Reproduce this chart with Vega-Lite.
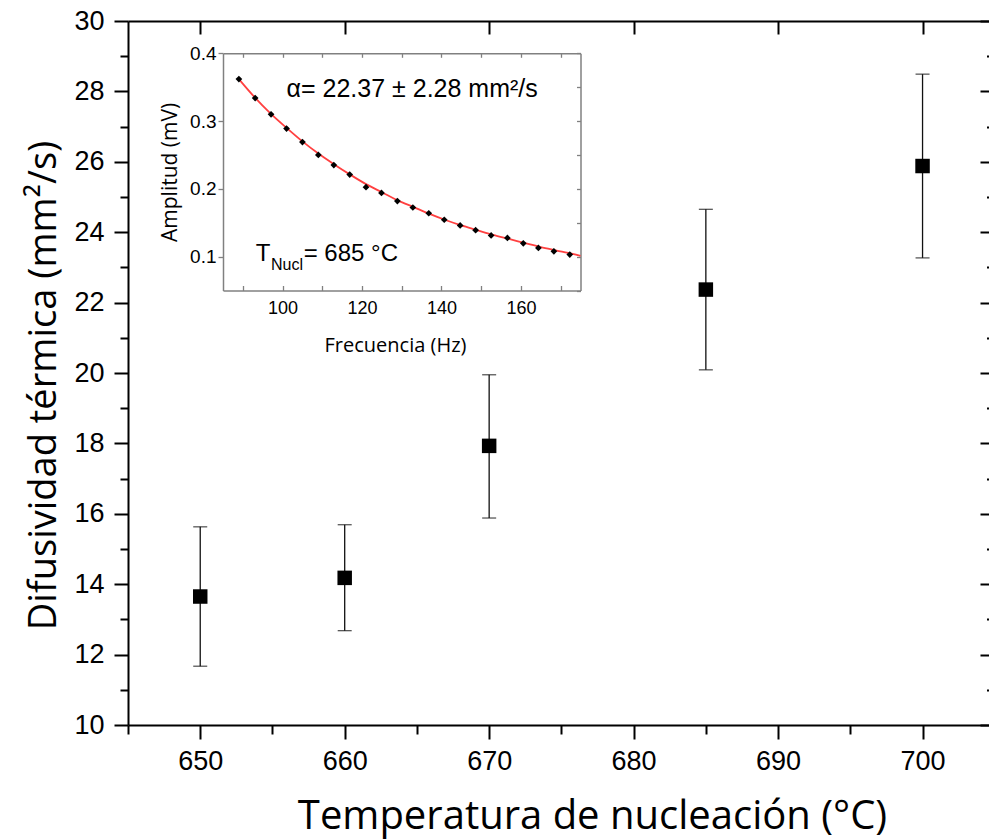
{
  "$schema": "https://vega.github.io/schema/vega-lite/v6.json",
  "width": 861,
  "height": 704,
  "autosize": {"type": "none"},
  "padding": {"left": 128, "top": 21, "right": 0, "bottom": 115},
  "background": "white",
  "config": {"view": {"stroke": null}, "axis": {"grid": false, "labelOverlap": false, "labelFlush": false}},
  "datasets": {
    "main": [
      {"t": 650, "d": 13.65, "lo": 11.67, "hi": 15.63},
      {"t": 660, "d": 14.18, "lo": 12.68, "hi": 15.69},
      {"t": 670, "d": 17.93, "lo": 15.88, "hi": 19.95},
      {"t": 685, "d": 22.37, "lo": 20.09, "hi": 24.65},
      {"t": 700, "d": 25.88, "lo": 23.27, "hi": 28.49}
    ],
    "pts": [
      {"f": 89.0, "a": 0.362}, {"f": 93.1, "a": 0.334}, {"f": 97.1, "a": 0.310}, {"f": 101.0, "a": 0.289},
      {"f": 105.0, "a": 0.269}, {"f": 109.0, "a": 0.250}, {"f": 112.9, "a": 0.235}, {"f": 116.9, "a": 0.221},
      {"f": 121.0, "a": 0.2025}, {"f": 124.9, "a": 0.194}, {"f": 128.9, "a": 0.182}, {"f": 132.8, "a": 0.1725},
      {"f": 136.8, "a": 0.164}, {"f": 140.7, "a": 0.1544}, {"f": 144.7, "a": 0.146}, {"f": 148.6, "a": 0.139},
      {"f": 152.5, "a": 0.1313}, {"f": 156.6, "a": 0.1275}, {"f": 160.6, "a": 0.1196}, {"f": 164.4, "a": 0.1128},
      {"f": 168.3, "a": 0.1078}, {"f": 172.3, "a": 0.103}
    ],
    "fit": [
      {"f": 89, "a": 0.362}, {"f": 93, "a": 0.335}, {"f": 97, "a": 0.311}, {"f": 101, "a": 0.290},
      {"f": 105, "a": 0.270}, {"f": 109, "a": 0.252}, {"f": 113, "a": 0.236}, {"f": 117, "a": 0.221},
      {"f": 121, "a": 0.207}, {"f": 125, "a": 0.195}, {"f": 129, "a": 0.183}, {"f": 133, "a": 0.173},
      {"f": 137, "a": 0.163}, {"f": 141, "a": 0.154}, {"f": 145, "a": 0.146}, {"f": 149, "a": 0.139},
      {"f": 153, "a": 0.132}, {"f": 157, "a": 0.126}, {"f": 161, "a": 0.120}, {"f": 165, "a": 0.114},
      {"f": 169, "a": 0.109}, {"f": 173, "a": 0.104}, {"f": 175, "a": 0.101}
    ]
  },
  "layer": [
    {
      "data": {"name": "main"},
      "resolve": {"axis": {"x": "independent", "y": "independent"}},
      "layer": [
        {
          "mark": {"type": "rule", "color": "#111111", "strokeWidth": 1.3},
          "encoding": {
            "x": {"field": "t", "type": "quantitative",
              "scale": {"domain": [645, 704.6], "nice": false, "zero": false},
              "axis": {"orient": "top", "values": [650, 660, 670, 680, 690, 700], "labels": false, "title": null,
                "tickSize": -13, "tickWidth": 2, "tickColor": "black", "domainColor": "black", "domainWidth": 2}},
            "y": {"field": "lo", "type": "quantitative",
              "scale": {"domain": [10, 30], "nice": false, "zero": false},
              "axis": {"orient": "right", "values": [10,11,12,13,14,15,16,17,18,19,20,21,22,23,24,25,26,27,28,29,30],
                "labels": false, "title": null, "domain": false,
                "tickSize": {"condition": {"test": "datum.value % 2 === 0", "value": -9}, "value": -2.5},
                "tickWidth": 2, "tickColor": "black"}},
            "y2": {"field": "hi"}
          }
        },
        {
          "mark": {"type": "tick", "orient": "horizontal", "color": "#111111", "size": 14, "thickness": 1.3},
          "encoding": {
            "x": {"field": "t", "type": "quantitative", "scale": {"domain": [645, 704.6], "nice": false, "zero": false}, "axis": null},
            "y": {"field": "hi", "type": "quantitative", "scale": {"domain": [10, 30], "nice": false, "zero": false}, "axis": null}
          }
        },
        {
          "mark": {"type": "tick", "orient": "horizontal", "color": "#111111", "size": 14, "thickness": 1.3},
          "encoding": {
            "x": {"field": "t", "type": "quantitative", "scale": {"domain": [645, 704.6], "nice": false, "zero": false}, "axis": null},
            "y": {"field": "lo", "type": "quantitative", "scale": {"domain": [10, 30], "nice": false, "zero": false}, "axis": null}
          }
        },
        {
          "mark": {"type": "square", "size": 210, "color": "black", "opacity": 1, "filled": true},
          "encoding": {
            "x": {"field": "t", "type": "quantitative",
              "scale": {"domain": [645, 704.6], "nice": false, "zero": false},
              "axis": {"orient": "bottom", "values": [645, 650, 655, 660, 665, 670, 675, 680, 685, 690, 695, 700],
                "labelExpr": "datum.value % 10 === 0 ? datum.label : ''",
                "tickSize": {"condition": {"test": "datum.value % 10 === 0", "value": 14}, "value": 9},
                "tickWidth": 2, "tickColor": "black", "domainColor": "black", "domainWidth": 2,
                "labelFont": "Liberation Sans", "labelFontSize": 27, "labelColor": "black", "labelPadding": 9,
                "title": "Temperatura de nucleación (°C)", "titleFont": "Open Sans", "titleFontSize": 40,
                "titleFontWeight": "normal", "titleColor": "black", "titlePadding": 22, "titleX": 464}},
            "y": {"field": "d", "type": "quantitative",
              "scale": {"domain": [10, 30], "nice": false, "zero": false},
              "axis": {"orient": "left", "values": [10,11,12,13,14,15,16,17,18,19,20,21,22,23,24,25,26,27,28,29,30],
                "labelExpr": "datum.value % 2 === 0 ? datum.label : ''",
                "tickSize": {"condition": {"test": "datum.value % 2 === 0", "value": 14}, "value": 8},
                "tickWidth": 2, "tickColor": "black", "domainColor": "black", "domainWidth": 2,
                "labelFont": "Liberation Sans", "labelFontSize": 27, "labelColor": "black", "labelPadding": 10,
                "title": "Difusividad térmica (mm²/s)", "titleFont": "Open Sans", "titleFontSize": 38,
                "titleFontWeight": "normal", "titleColor": "black", "titlePadding": 10, "titleY": 364}}
          }
        }
      ]
    },
    {
      "resolve": {"axis": {"x": "independent", "y": "independent"}},
      "layer": [
        {
          "data": {"name": "fit"},
          "mark": {"type": "line", "color": "#ff4040", "strokeWidth": 1.8, "interpolate": "monotone"},
          "encoding": {
            "x": {"field": "f", "type": "quantitative",
              "scale": {"domain": [85, 175], "range": [95, 452.5], "nice": false, "zero": false},
              "axis": {"orient": "bottom", "offset": -434.5, "values": [90, 100, 110, 120, 130, 140, 150, 160, 170],
                "labelExpr": "datum.value % 20 === 0 ? datum.label : ''",
                "tickSize": -5, "tickWidth": 1.3, "tickColor": "#808080", "domainColor": "#808080", "domainWidth": 1.5,
                "labelFont": "Liberation Sans", "labelFontSize": 18, "labelColor": "black", "labelPadding": 14,
                "title": "Frecuencia (Hz)", "titleFont": "Open Sans", "titleFontSize": 20, "titleFontWeight": "normal",
                "titleColor": "black", "titlePadding": 18, "titleX": 267}},
            "y": {"field": "a", "type": "quantitative",
              "scale": {"domain": [0.05, 0.4], "range": [269.5, 32.3], "nice": false, "zero": false},
              "axis": {"orient": "left", "offset": -95, "values": [0.1, 0.2, 0.3, 0.4],
                "tickSize": 5, "tickWidth": 1.3, "tickColor": "#808080", "domainColor": "#808080", "domainWidth": 1.5,
                "labelFont": "Liberation Sans", "labelFontSize": 19, "labelColor": "black", "labelPadding": 2,
                "title": "Amplitud (mV)", "titleFont": "Open Sans", "titleFontSize": 21, "titleFontWeight": "normal",
                "titleColor": "black", "titlePadding": 9}}
          }
        },
        {
          "data": {"name": "pts"},
          "mark": {"type": "point", "shape": "diamond", "filled": true, "color": "black", "opacity": 1, "size": 45},
          "encoding": {
            "x": {"field": "f", "type": "quantitative",
              "scale": {"domain": [85, 175], "range": [95, 452.5], "nice": false, "zero": false},
              "axis": {"orient": "top", "offset": -32.3, "values": [90, 100, 110, 120, 130, 140, 150, 160, 170],
                "labels": false, "title": null, "tickSize": -4, "tickWidth": 1.3, "tickColor": "#808080",
                "domainColor": "#808080", "domainWidth": 1.5}},
            "y": {"field": "a", "type": "quantitative",
              "scale": {"domain": [0.05, 0.4], "range": [269.5, 32.3], "nice": false, "zero": false},
              "axis": {"orient": "right", "offset": -408.5, "values": [0.05, 0.1, 0.15, 0.2, 0.25, 0.3, 0.35, 0.4],
                "labels": false, "title": null, "tickSize": -4, "tickWidth": 1.3, "tickColor": "#808080",
                "domainColor": "#808080", "domainWidth": 1.5}}
          }
        },
        {
          "data": {"values": [{}]},
          "mark": {"type": "text", "text": "α= 22.37 ± 2.28 mm²/s", "font": "Liberation Sans", "fontSize": 25, "align": "left", "baseline": "alphabetic", "color": "black"},
          "encoding": {
            "x": {"datum": 101.0, "type": "quantitative", "axis": null},
            "y": {"datum": 0.3357, "type": "quantitative", "axis": null}
          }
        },
        {
          "data": {"values": [{}]},
          "mark": {"type": "text", "text": "T", "font": "Liberation Sans", "fontSize": 24, "align": "left", "baseline": "alphabetic", "color": "black"},
          "encoding": {
            "x": {"datum": 93.26, "type": "quantitative", "axis": null},
            "y": {"datum": 0.0941, "type": "quantitative", "axis": null}
          }
        },
        {
          "data": {"values": [{}]},
          "mark": {"type": "text", "text": "Nucl", "font": "Liberation Sans", "fontSize": 16, "align": "left", "baseline": "alphabetic", "color": "black"},
          "encoding": {
            "x": {"datum": 97.1, "type": "quantitative", "axis": null},
            "y": {"datum": 0.0804, "type": "quantitative", "axis": null}
          }
        },
        {
          "data": {"values": [{}]},
          "mark": {"type": "text", "text": "= 685 °C", "font": "Liberation Sans", "fontSize": 24, "align": "left", "baseline": "alphabetic", "color": "black"},
          "encoding": {
            "x": {"datum": 105.3, "type": "quantitative", "axis": null},
            "y": {"datum": 0.0941, "type": "quantitative", "axis": null}
          }
        }
      ]
    }
  ],
  "resolve": {"scale": {"x": "independent", "y": "independent"}, "axis": {"x": "independent", "y": "independent"}}
}
